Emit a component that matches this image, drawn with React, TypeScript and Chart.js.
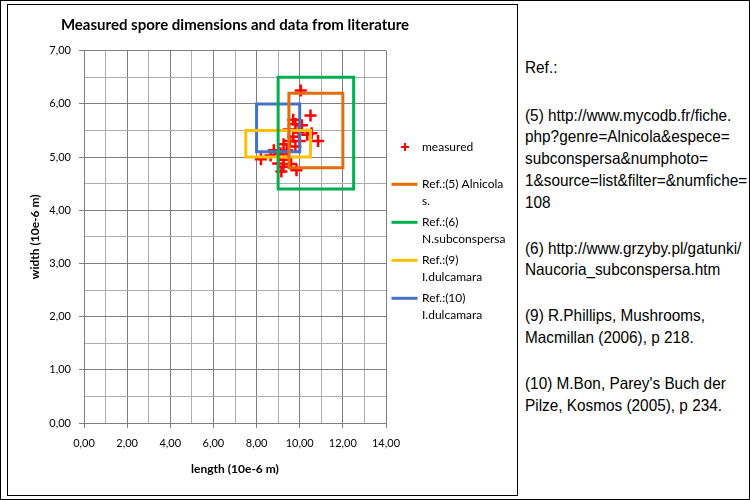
import React, { useEffect, useRef } from "react";
import { Chart, registerables } from "chart.js";

Chart.register(...registerables);

// ---------- data ----------
const chartTitle = "Measured spore dimensions and data from literature";
const xAxisTitle = "length (10e-6 m)";
const yAxisTitle = "width (10e-6 m)";
const measuredLabel = "measured";

const measuredLength = [
  10.05, 10.5, 9.7, 9.8, 10.1, 9.5, 9.95, 10.35, 9.7, 10.55, 10.85, 9.55, 10.0,
  9.25, 9.8, 9.4, 8.8, 9.1, 8.65, 8.2, 9.25, 9.0, 9.6, 9.25, 9.15, 9.85,
];
const measuredWidth = [
  6.25, 5.78, 5.7, 5.62, 5.6, 5.52, 5.46, 5.42, 5.38, 5.45, 5.3, 5.3, 5.3,
  5.24, 5.2, 5.13, 5.13, 5.07, 5.03, 4.96, 4.95, 4.88, 4.87, 4.82, 4.73, 4.75,
];

const refLabels = [
  "Ref.:(5) Alnicola s.",
  "Ref.:(6) N.subconspersa",
  "Ref.:(9) I.dulcamara",
  "Ref.:(10) I.dulcamara",
];
const refColors = ["#E46C0A", "#00B050", "#FFC000", "#4472C4"];
const refLengthMin = [9.5, 9.0, 7.5, 8.0];
const refLengthMax = [12.0, 12.5, 10.5, 10.0];
const refWidthMin = [4.8, 4.4, 5.0, 5.1];
const refWidthMax = [6.2, 6.5, 5.5, 6.0];

const xMin = 0;
const xMax = 14;
const yMin = 0;
const yMax = 7;

const notes = [
  ["Ref.:"],
  [
    "(5) http://www.mycodb.fr/fiche.",
    "php?genre=Alnicola&espece=",
    "subconspersa&numphoto=",
    "1&source=list&filter=&numfiche=",
    "108",
  ],
  ["(6) http://www.grzyby.pl/gatunki/", "Naucoria_subconspersa.htm"],
  ["(9) R.Phillips, Mushrooms,", "Macmillan (2006), p 218."],
  ["(10) M.Bon, Parey's Buch der", "Pilze, Kosmos (2005), p 234."],
];

// ---------- styles ----------
const FONT = "Lato, 'Open Sans', sans-serif";
const MAJOR = "#7F7F7F";
const MINOR = "#ADADAD";
const fmt = (v: number) => v.toFixed(2).replace(".", ",");

function wrapText(ctx: CanvasRenderingContext2D, text: string, maxW: number) {
  const words = text.split(" ");
  const lines: string[] = [];
  let cur = "";
  for (const w of words) {
    const test = cur ? cur + " " + w : w;
    if (ctx.measureText(test).width > maxW && cur) {
      lines.push(cur);
      cur = w;
    } else cur = test;
  }
  if (cur) lines.push(cur);
  return lines;
}

// chart title (centred on the plot area, allowed to overhang it) + side legend
const sideDecor = {
  id: "sideDecor",
  afterDraw(chart: any) {
    const ctx: CanvasRenderingContext2D = chart.ctx;
    const { left, right } = chart.chartArea;
    ctx.save();
    // title
    ctx.font = `bold 15px ${FONT}`;
    ctx.fillStyle = "#000";
    ctx.textAlign = "center";
    ctx.textBaseline = "alphabetic";
    ctx.fillText(chartTitle, (left + right) / 2, 24.5);

    // legend
    const r = right;
    const textX = r + 36;
    const maxW = 90;
    ctx.font = `12px ${FONT}`;
    ctx.textBaseline = "middle";
    ctx.textAlign = "left";
    let y = 142;
    ctx.strokeStyle = "#FF0000";
    ctx.lineWidth = 2;
    ctx.beginPath();
    ctx.moveTo(r + 19 - 4, y);
    ctx.lineTo(r + 19 + 4, y);
    ctx.moveTo(r + 19, y - 4);
    ctx.lineTo(r + 19, y + 4);
    ctx.stroke();
    ctx.fillStyle = "#000";
    ctx.fillText(measuredLabel, textX, y);
    y += 37.3;
    refLabels.forEach((lab, i) => {
      ctx.strokeStyle = refColors[i];
      ctx.lineWidth = 3;
      ctx.beginPath();
      ctx.moveTo(r + 5.5, y);
      ctx.lineTo(r + 31.5, y);
      ctx.stroke();
      ctx.fillStyle = "#000";
      const lines = wrapText(ctx, lab, maxW);
      lines.forEach((ln, j) => ctx.fillText(ln, textX, y + j * 16.5));
      y += 38;
    });
    ctx.restore();
  },
};

export default function App() {
  const canvasRef = useRef<HTMLCanvasElement | null>(null);

  useEffect(() => {
    if (!canvasRef.current) return;
    const measured = measuredLength.map((x, i) => ({ x, y: measuredWidth[i] }));
    const boxes = refLabels.map((label, i) => ({
      label,
      data: [
        { x: refLengthMin[i], y: refWidthMin[i] },
        { x: refLengthMax[i], y: refWidthMin[i] },
        { x: refLengthMax[i], y: refWidthMax[i] },
        { x: refLengthMin[i], y: refWidthMax[i] },
        { x: refLengthMin[i], y: refWidthMin[i] },
      ],
      showLine: true,
      borderColor: refColors[i],
      backgroundColor: refColors[i],
      borderWidth: 3,
      borderJoinStyle: "miter" as const,
      borderCapStyle: "square" as const,
      pointRadius: 0,
      fill: false,
      order: 1,
    }));
    const chart = new Chart(canvasRef.current, {
      type: "scatter",
      data: {
        datasets: [
          ...boxes,
          {
            label: measuredLabel,
            data: measured,
            pointStyle: "cross",
            pointRadius: 6,
            borderWidth: 2.5,
            borderColor: "#FF0000",
            backgroundColor: "#FF0000",
            showLine: false,
            order: 2,
          },
        ],
      } as any,
      options: {
        animation: false,
        responsive: false,
        maintainAspectRatio: false,
        devicePixelRatio: 1,
        layout: { padding: { left: 0, right: 131, top: 45.7, bottom: 0 } },
        plugins: {
          legend: { display: false },
          tooltip: { enabled: false },
          title: { display: false },
        },
        scales: {
          x: {
            type: "linear",
            min: xMin,
            max: xMax,
            afterFit: (s: any) => {
              s.height = 72;
            },
            ticks: {
              stepSize: 1,
              autoSkip: false,
              maxRotation: 0,
              padding: 9,
              color: "#000",
              font: { family: FONT, size: 11 },
              callback: (v: any) => (Number(v) % 2 === 0 ? fmt(Number(v)) : ""),
            },
            grid: {
              tickLength: 5,
              color: (c: any) => (c.tick && c.tick.value % 2 === 0 ? MAJOR : MINOR),
              tickColor: (c: any) => (c.tick && c.tick.value % 2 === 0 ? MAJOR : "rgba(0,0,0,0)"),
            },
            border: { color: MAJOR, width: 1 },
            title: {
              display: true,
              text: xAxisTitle,
              color: "#000",
              font: { family: FONT, size: 12, weight: "bold" },
              padding: { top: 0, bottom: 18.8 },
            },
          },
          y: {
            type: "linear",
            min: yMin,
            max: yMax,
            afterFit: (s: any) => {
              s.width = 76;
            },
            ticks: {
              stepSize: 0.5,
              autoSkip: false,
              padding: 8,
              color: "#000",
              font: { family: FONT, size: 11 },
              callback: (v: any) => (Number.isInteger(Number(v)) ? fmt(Number(v)) : ""),
            },
            grid: {
              tickLength: 5,
              color: (c: any) => (c.tick && Number.isInteger(c.tick.value) ? MAJOR : MINOR),
              tickColor: (c: any) =>
                c.tick && Number.isInteger(c.tick.value) ? MAJOR : "rgba(0,0,0,0)",
            },
            border: { color: MAJOR, width: 1 },
            title: {
              display: true,
              text: yAxisTitle,
              color: "#000",
              font: { family: FONT, size: 12, weight: "bold" },
              padding: { top: 19.8, bottom: 0 },
            },
          },
        },
      } as any,
      plugins: [sideDecor],
    });
    return () => chart.destroy();
  }, []);

  return (
    <div
      style={{
        position: "fixed",
        left: 0,
        top: 0,
        width: 750,
        height: 500,
        boxSizing: "border-box",
        border: "1px solid #000",
        background: "#fff",
        overflow: "hidden",
      }}
    >
      <div
        style={{
          position: "absolute",
          left: 6,
          top: 3,
          width: 511,
          height: 492,
          boxSizing: "border-box",
          border: "1px solid #000",
        }}
      >
        <canvas ref={canvasRef} width={509} height={490} style={{ display: "block" }} />
      </div>
      <div
        style={{
          position: "absolute",
          left: 524,
          top: 56,
          fontFamily: "'Liberation Sans', Arial, sans-serif",
          fontSize: 16.5,
          lineHeight: "21.7px",
          color: "#000",
          whiteSpace: "nowrap",
          transform: "scaleX(0.93)",
          transformOrigin: "left top",
        }}
      >
        {notes.map((para, i) => (
          <div key={i} style={{ marginTop: i === 0 ? 0 : i === 1 ? 26 : 24.3 }}>
            {para.map((ln, j) => (
              <div key={j}>{ln}</div>
            ))}
          </div>
        ))}
      </div>
    </div>
  );
}
